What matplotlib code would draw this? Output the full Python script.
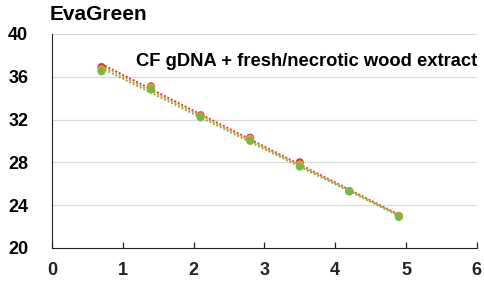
import matplotlib
matplotlib.use("Agg")
import matplotlib.pyplot as plt
import numpy as np

plt.rcParams["font.family"] = ["Liberation Sans", "DejaVu Sans"]

log_conc = [0.7, 1.4, 2.1, 2.8, 3.5, 4.2, 4.9]
cq_red = [36.9, 35.1, 32.4, 30.3, 28.0, 25.3, 23.0]
cq_orange = [36.7, 35.0, 32.3, 30.2, 27.8, 25.3, 23.0]
cq_green = [36.5, 34.8, 32.2, 30.0, 27.6, 25.3, 22.9]

series = [(cq_red, "#d63a2a"), (cq_orange, "#e0a030"), (cq_green, "#7ab648")]

fig = plt.figure(figsize=(4.85, 2.87), dpi=100)
ax = fig.add_axes([0.107, 0.136, 0.876, 0.746])

x = np.array(log_conc)
for vals, col in series:
    k, b = np.polyfit(x, vals, 1)
    xx = np.array([x[0], x[-1]])
    ax.plot(xx, k * xx + b, ls=(0, (1, 1)), color=col, lw=1.4, zorder=2)
for vals, col in series:
    ax.scatter(x, vals, s=34, color=col, edgecolor="none", zorder=3)

ax.set_xlim(0, 6)
ax.set_ylim(20, 40)
ax.set_yticks(range(20, 41, 4))
ax.set_xticks(range(0, 7))
for y in range(24, 41, 4):
    ax.axhline(y, color="#d9d9d9", lw=0.9, zorder=0)

ax.spines["top"].set_visible(False)
ax.spines["right"].set_visible(False)
ax.spines["left"].set_color("#222222")
ax.spines["bottom"].set_color("#222222")
ax.tick_params(axis="x", direction="in", length=4, width=0.9, pad=10,
               labelsize=13, colors="#222222")
ax.tick_params(axis="y", length=0, pad=17, labelsize=13)
for lab in ax.get_xticklabels() + ax.get_yticklabels():
    lab.set_fontweight("bold")

fig.text(0.103, 0.948, "EvaGreen", fontsize=15, fontweight="bold",
         ha="left", va="center")
ax.text(0.60, 0.87, "CF gDNA + fresh/necrotic wood extract", transform=ax.transAxes,
        fontsize=13.2, fontweight="bold", ha="center", va="center")

fig.savefig("out.png", dpi=100)
